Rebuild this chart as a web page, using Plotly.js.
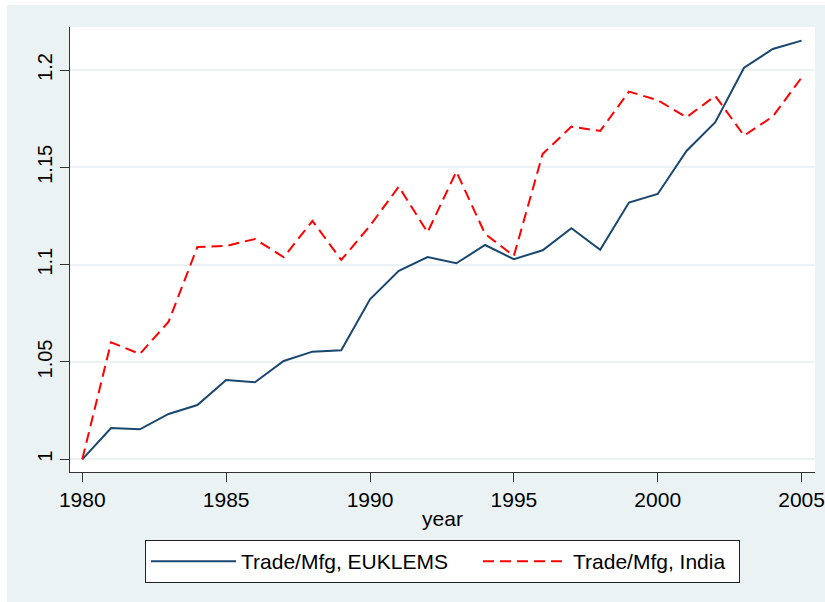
<!DOCTYPE html>
<html>
<head>
<meta charset="utf-8">
<script src="https://cdn.plot.ly/plotly-3.0.1.min.js"></script>
<style>
  html, body { margin: 0; padding: 0; background: #ffffff; }
  #chart { position: absolute; left: 7px; top: 5px; width: 818px; height: 597px; }
</style>
</head>
<body>
<div id="chart"></div>
<script>
const years = [1980,1981,1982,1983,1984,1985,1986,1987,1988,1989,1990,1991,1992,1993,1994,1995,1996,1997,1998,1999,2000,2001,2002,2003,2004,2005];
const euklems = [1.000,1.0161,1.0154,1.0233,1.0279,1.0407,1.0396,1.0505,1.0553,1.0560,1.0822,1.0968,1.1039,1.1007,1.1101,1.1028,1.1074,1.1187,1.1076,1.1319,1.1363,1.1584,1.1732,1.2012,1.2108,1.2151];
const india = [1.000,1.0601,1.0541,1.0707,1.1091,1.1096,1.1132,1.1038,1.1225,1.1024,1.1200,1.1401,1.1166,1.1478,1.1158,1.1045,1.1569,1.1709,1.1687,1.1889,1.1845,1.1757,1.1867,1.1663,1.1761,1.1961];
const xTicks = [1980,1985,1990,1995,2000,2005];
const yTicks = [1,1.05,1.1,1.15,1.2];
const yTickText = ["1","1.05","1.1","1.15","1.2"];
const seriesNames = ["Trade/Mfg, EUKLEMS","Trade/Mfg, India"];

const font = {family: "Liberation Sans, Arial, sans-serif", size: 21, color: "#000000"};
const yfont = {family: "Liberation Sans, Arial, sans-serif", size: 20, color: "#000000"};

const traces = [
  {x: years, y: euklems, name: seriesNames[0], type: "scatter", mode: "lines",
   legendwidth: 232,
   line: {color: "#1a476f", width: 2}},
  {x: years, y: india, name: seriesNames[1], type: "scatter", mode: "lines",
   legendwidth: 161,
   line: {color: "#ff0000", width: 2, dash: "11px,6px"}}
];

const layout = {
  width: 818, height: 597,
  margin: {l: 63, r: 10, t: 22, b: 130, pad: 0},
  paper_bgcolor: "#eaf2f3",
  plot_bgcolor: "#ffffff",
  font: font,
  showlegend: true,
  xaxis: {
    range: [1979.5725, 2005.466],
    tickvals: xTicks, ticktext: xTicks.map(String),
    ticks: "outside", ticklen: 9, tickwidth: 1, tickcolor: "#333333",
    showline: true, linecolor: "#333333", linewidth: 1,
    showgrid: false, zeroline: false,
    tickfont: font,
    title: {text: "year", font: font, standoff: 1}
  },
  yaxis: {
    range: [0.99348, 1.22209],
    tickvals: yTicks, ticktext: yTickText,
    tickangle: -90,
    ticks: "outside", ticklen: 9, tickwidth: 1, tickcolor: "#333333",
    showline: true, linecolor: "#333333", linewidth: 1,
    showgrid: true, gridcolor: "#eaf2f3", gridwidth: 2,
    zeroline: false,
    tickfont: yfont
  },
  legend: {
    orientation: "h",
    x: 0.5, xanchor: "center",
    y: -0.1528, yanchor: "top",
    bgcolor: "#ffffff", bordercolor: "#222222", borderwidth: 1,
    font: font,
    itemwidth: 85,
    traceorder: "normal"
  }
};

Plotly.newPlot("chart", traces, layout, {displayModeBar: false, staticPlot: true});
</script>
</body>
</html>
